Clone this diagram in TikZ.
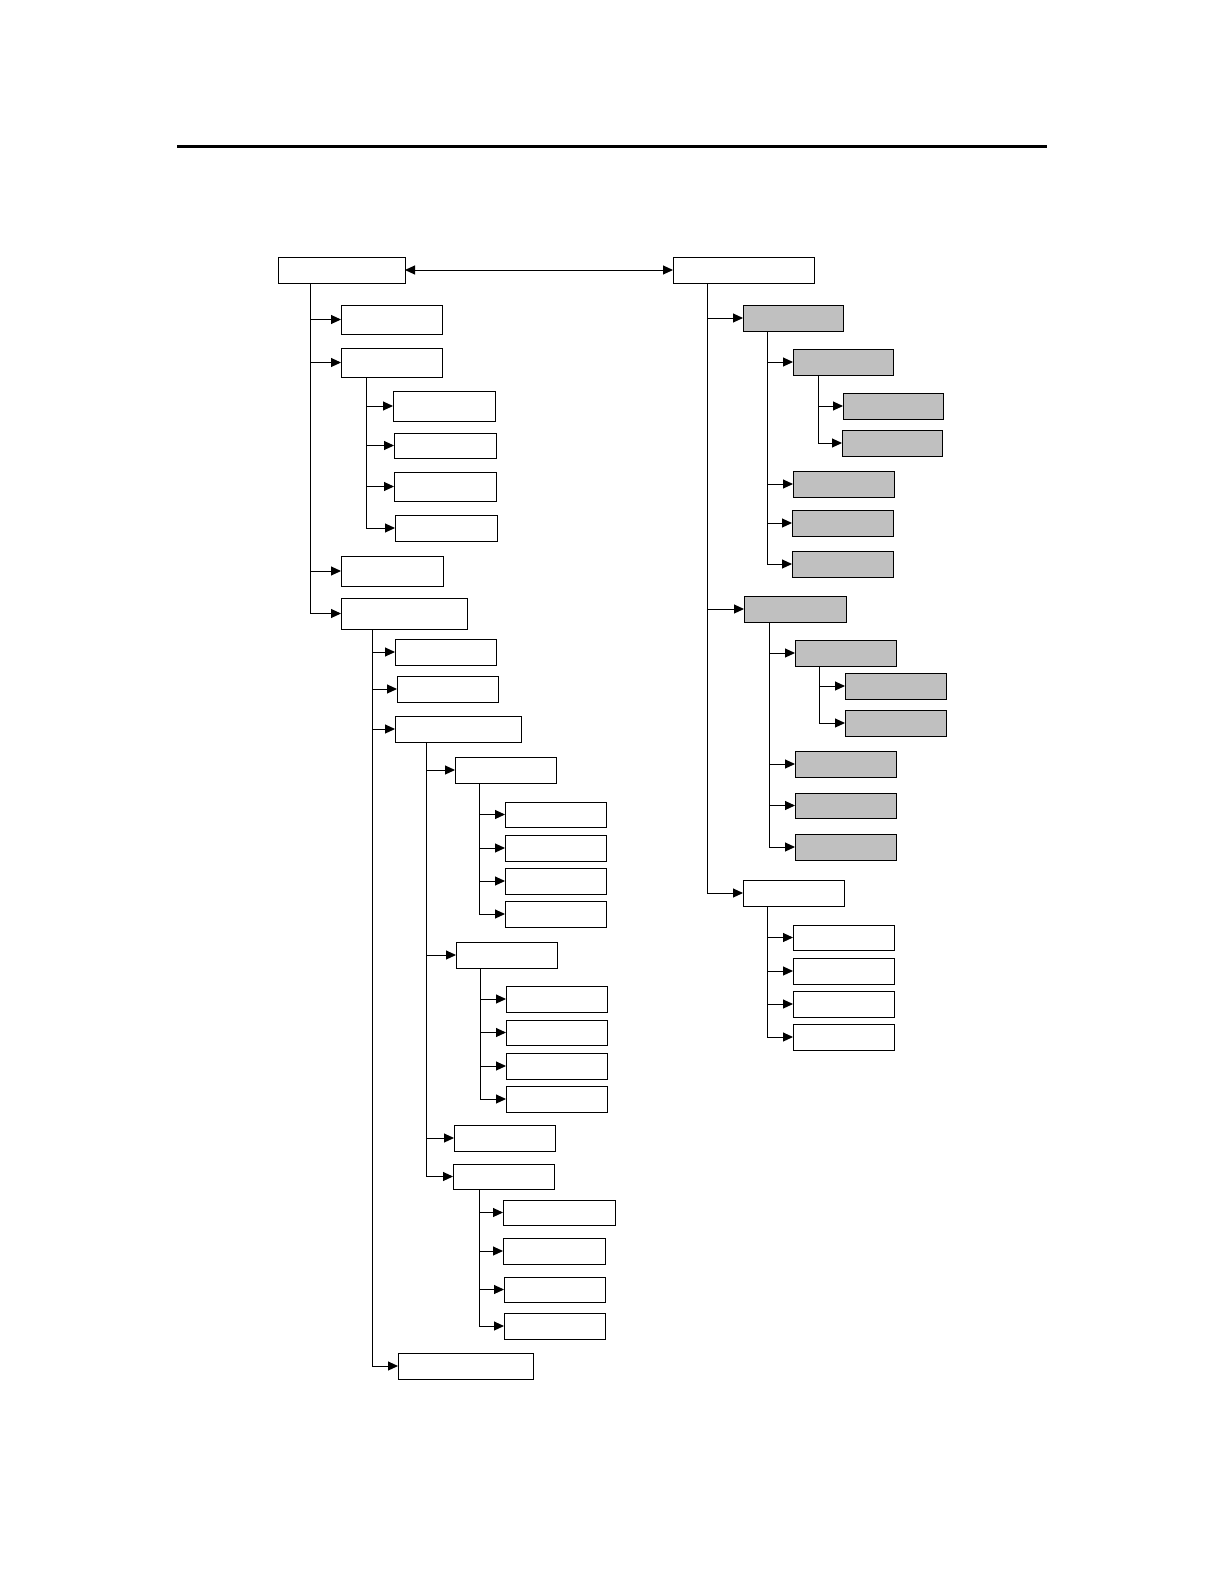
\documentclass[tikz,border=0pt]{standalone}
\usetikzlibrary{arrows.meta}
\definecolor{boxgray}{HTML}{C0C0C0}
\newcommand\mkbox[6]{\node[#2, minimum width={(#5-#3)*0.5pt}, minimum height={(#6-#4)*0.5pt}] (#1) at ({(#3+#5)/2},{(#4+#6)/2}) {};}
\tikzset{
  wbox/.style={draw=black, fill=white, line width=0.5pt, inner sep=0pt, outer sep=0pt, rectangle},
  gbox/.style={wbox, fill=boxgray},
  arr/.style={line width=0.5pt, -{Triangle[length=5pt,width=4.5pt]}},
  darr/.style={line width=0.5pt, {Triangle[length=5pt,width=4.5pt]}-{Triangle[length=5pt,width=4.5pt]}}
}
\begin{document}
\begin{tikzpicture}[x=0.5pt, y=-0.5pt]
\useasboundingbox (0,0) rectangle (1224,1584);
\fill[white] (0,0) rectangle (1224,1584);
% top rule
\coordinate (ruleL) at (177,146);
\coordinate (ruleR) at (1047,146);
\draw[line width=1.5pt] (ruleL) -- (ruleR);

% ---------------- left tree ----------------
\mkbox{root}{wbox}{278}{257}{405}{283}
\mkbox{c1}{wbox}{341}{305}{442}{334}
\mkbox{c2}{wbox}{341}{348}{442}{377}
\mkbox{c2a}{wbox}{393}{391}{495}{421}
\mkbox{c2b}{wbox}{394}{433}{496}{458}
\mkbox{c2c}{wbox}{394}{472}{496}{501}
\mkbox{c2d}{wbox}{395}{515}{497}{541}
\mkbox{c3}{wbox}{341}{556}{443}{586}
\mkbox{c4}{wbox}{341}{598}{467}{629}
\mkbox{c4a}{wbox}{395}{639}{496}{665}
\mkbox{c4b}{wbox}{397}{676}{498}{702}
\mkbox{c4c}{wbox}{395}{716}{521}{742}
\mkbox{c4d}{wbox}{398}{1353}{533}{1379}
\mkbox{A}{wbox}{455}{757}{556}{783}
\mkbox{A1}{wbox}{505}{802}{606}{827}
\mkbox{A2}{wbox}{505}{835}{606}{861}
\mkbox{A3}{wbox}{505}{868}{606}{894}
\mkbox{A4}{wbox}{505}{901}{606}{927}
\mkbox{B}{wbox}{456}{942}{557}{968}
\mkbox{B1}{wbox}{506}{986}{607}{1012}
\mkbox{B2}{wbox}{506}{1020}{607}{1045}
\mkbox{B3}{wbox}{506}{1053}{607}{1079}
\mkbox{B4}{wbox}{506}{1086}{607}{1112}
\mkbox{C}{wbox}{454}{1125}{555}{1151}
\mkbox{D}{wbox}{453}{1164}{554}{1189}
\mkbox{D1}{wbox}{503}{1200}{615}{1225}
\mkbox{D2}{wbox}{503}{1238}{605}{1264}
\mkbox{D3}{wbox}{504}{1277}{605}{1302}
\mkbox{D4}{wbox}{504}{1313}{605}{1339}

\coordinate (tRoot) at (310,0);
\coordinate (tC2) at (366,0);
\coordinate (tC4) at (372,0);
\coordinate (tC4c) at (426,0);
\coordinate (tA) at (479,0);
\coordinate (tB) at (480,0);
\coordinate (tD) at (479,0);

\foreach \c in {c1,c2,c3,c4} \draw[arr] (root.south -| tRoot) |- (\c.west);
\foreach \c in {c2a,c2b,c2c,c2d} \draw[arr] (c2.south -| tC2) |- (\c.west);
\foreach \c in {c4a,c4b,c4c,c4d} \draw[arr] (c4.south -| tC4) |- (\c.west);
\foreach \c in {A,B,C,D} \draw[arr] (c4c.south -| tC4c) |- (\c.west);
\foreach \c in {A1,A2,A3,A4} \draw[arr] (A.south -| tA) |- (\c.west);
\foreach \c in {B1,B2,B3,B4} \draw[arr] (B.south -| tB) |- (\c.west);
\foreach \c in {D1,D2,D3,D4} \draw[arr] (D.south -| tD) |- (\c.west);

% ---------------- right tree ----------------
\mkbox{rroot}{wbox}{673}{257}{814}{283}
\mkbox{g1}{gbox}{743}{305}{843}{331}
\mkbox{g1a}{gbox}{793}{349}{893}{375}
\mkbox{g1ai}{gbox}{843}{393}{943}{419}
\mkbox{g1aii}{gbox}{842}{430}{942}{456}
\mkbox{g1b}{gbox}{793}{471}{894}{497}
\mkbox{g1c}{gbox}{792}{510}{893}{536}
\mkbox{g1d}{gbox}{792}{551}{893}{577}
\mkbox{g2}{gbox}{744}{596}{846}{622}
\mkbox{g2a}{gbox}{795}{640}{896}{666}
\mkbox{g2ai}{gbox}{845}{673}{946}{699}
\mkbox{g2aii}{gbox}{845}{710}{946}{736}
\mkbox{g2b}{gbox}{795}{751}{896}{777}
\mkbox{g2c}{gbox}{795}{793}{896}{818}
\mkbox{g2d}{gbox}{795}{834}{896}{860}
\mkbox{w}{wbox}{743}{880}{844}{906}
\mkbox{w1}{wbox}{793}{925}{894}{950}
\mkbox{w2}{wbox}{793}{958}{894}{984}
\mkbox{w3}{wbox}{793}{991}{894}{1017}
\mkbox{w4}{wbox}{793}{1024}{894}{1050}

\coordinate (tR) at (707.5,0);
\coordinate (tG1) at (767.5,0);
\coordinate (tG1a) at (818,0);
\coordinate (tG2) at (769.3,0);
\coordinate (tG2a) at (819.3,0);
\coordinate (tW) at (767.7,0);

\foreach \c in {g1,g2,w} \draw[arr] (rroot.south -| tR) |- (\c.west);
\foreach \c in {g1a,g1b,g1c,g1d} \draw[arr] (g1.south -| tG1) |- (\c.west);
\foreach \c in {g1ai,g1aii} \draw[arr] (g1a.south -| tG1a) |- (\c.west);
\foreach \c in {g2a,g2b,g2c,g2d} \draw[arr] (g2.south -| tG2) |- (\c.west);
\foreach \c in {g2ai,g2aii} \draw[arr] (g2a.south -| tG2a) |- (\c.west);
\foreach \c in {w1,w2,w3,w4} \draw[arr] (w.south -| tW) |- (\c.west);

% link between roots
\draw[darr] (root.east) -- (rroot.west);
\end{tikzpicture}
\end{document}
